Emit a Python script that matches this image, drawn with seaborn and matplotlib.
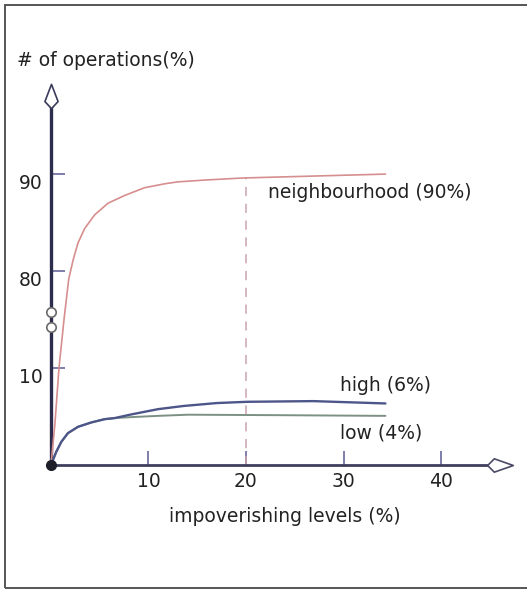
import numpy as np
import pandas as pd
import matplotlib
matplotlib.use('Agg')
import matplotlib.pyplot as plt
from matplotlib.path import Path
from matplotlib.patches import Rectangle
import seaborn as sns

# curves
nb_x = [0, 0.41, 0.82, 1.33, 1.82, 2.26, 2.77, 3.46, 4.48, 5.85, 7.56, 9.61, 11.66, 13.0, 16.0, 19.7, 27.0, 34.3]
nb_y = [0, 4.3, 10, 44.6, 74.2, 81.1, 82.9, 84.4, 85.8, 87.0, 87.8, 88.6, 89.0, 89.2, 89.4, 89.6, 89.8, 90.0]

high_x = [0, 0.54, 1.06, 1.74, 2.77, 4.13, 5.51, 6.53, 8.24, 10.97, 13.6, 17.0, 20.1, 26.9, 34.3]
high_y = [0, 1.37, 2.40, 3.30, 3.95, 4.40, 4.74, 4.85, 5.23, 5.77, 6.10, 6.40, 6.53, 6.60, 6.36]

low_x = [0, 0.54, 1.06, 1.74, 2.77, 4.13, 5.51, 6.53, 8.24, 10.97, 14.05, 23.5, 34.3]
low_y = [0, 1.37, 2.40, 3.30, 3.95, 4.40, 4.74, 4.85, 4.95, 5.08, 5.20, 5.15, 5.08]

x_ticks = [10, 20, 30, 40]
y_ticks = [10, 80, 90]
break_marks = [39.6, 50.4]
ref_x = 20

labels = {'neighbourhood (90%)': (22.3, 88.1),
          'high (6%)': (29.6, 8.25),
          'low (4%)': (29.6, 3.3)}

sns.set_style('white')
plt.rcParams['font.family'] = ['DejaVu Sans']
txt = '#222222'
fs = 13.5


# broken y axis: 0-10, 10-80 squeezed, 80-90 each get the same height
def fwd(v):
    v = np.asarray(v, dtype=float)
    return np.where(v <= 10, v / 10, np.where(v <= 80, 1 + (v - 10) / 70, 2 + (v - 80) / 10))


def inv(d):
    d = np.asarray(d, dtype=float)
    return np.where(d <= 1, d * 10, np.where(d <= 2, 10 + (d - 1) * 70, 80 + (d - 2) * 10))


fig = plt.figure(figsize=(5.27, 5.90), dpi=100)
W, H = 527, 590
ax = fig.add_axes([30 / W, 1 - 470 / H, 490 / W, 390 / H])
ax.set_yscale('function', functions=(fwd, inv))
ax.set_xlim(-2.15, 48.1)
ax.set_ylim(-0.5, 99.7)

df_low = pd.DataFrame({'x': low_x, 'y': low_y})
df_high = pd.DataFrame({'x': high_x, 'y': high_y})
df_nb = pd.DataFrame({'x': nb_x, 'y': nb_y})

ax.plot([ref_x, ref_x], [0, 89.7], color='#c9a3ad', lw=1.1, dashes=(6, 5), zorder=1)
sns.lineplot(data=df_low, x='x', y='y', ax=ax, color='#7c9084', lw=1.4, estimator=None, sort=False, zorder=3)
sns.lineplot(data=df_high, x='x', y='y', ax=ax, color='#4d5688', lw=1.7, estimator=None, sort=False, zorder=4)
sns.lineplot(data=df_nb, x='x', y='y', ax=ax, color='#d68e8e', lw=1.2, estimator=None, sort=False, zorder=3)

for s in ['top', 'right']:
    ax.spines[s].set_visible(False)
ax.spines['left'].set_position(('data', 0))
ax.spines['bottom'].set_position(('data', 0))
ax.spines['left'].set_bounds(0, 96.9)
ax.spines['bottom'].set_bounds(0, 44.7)
ax.spines['left'].set_color('#2c2c4c')
ax.spines['left'].set_linewidth(2.4)
ax.spines['bottom'].set_color('#3e3e5c')
ax.spines['bottom'].set_linewidth(2.0)

ax.set_xticks(x_ticks)
ax.set_yticks(y_ticks)
ax.set_xticklabels([str(t) for t in x_ticks])
ax.set_yticklabels([str(t) for t in y_ticks])
ax.tick_params(axis='both', which='major', direction='in', length=10, width=1.4, color='#7d7dab',
               labelsize=fs, labelcolor=txt, left=True, bottom=True)
ax.tick_params(axis='x', pad=5)
ax.tick_params(axis='y', pad=6)
for t in ax.get_yticklabels():
    t.set_verticalalignment('top')
ax.set_xlabel('')
ax.set_ylabel('')

# arrow heads
kite_up = Path([(0, 12), (6.5, -5), (0, -12), (-6.5, -5), (0, 12)],
               [Path.MOVETO, Path.LINETO, Path.LINETO, Path.LINETO, Path.CLOSEPOLY])
kite_right = Path([(12.5, 0), (-6, 6.5), (-12.5, 0), (-6, -6.5), (12.5, 0)],
                  [Path.MOVETO, Path.LINETO, Path.LINETO, Path.LINETO, Path.CLOSEPOLY])
ax.plot([0], [98.1], marker=kite_up, ms=17.5, mfc='white', mec='#3a3a5a', mew=1.2, clip_on=False, zorder=6)
ax.plot([46.0], [0], marker=kite_right, ms=18.5, mfc='white', mec='#4a4a66', mew=1.2, clip_on=False, zorder=6)

# axis break and origin dot
ax.plot([0, 0], break_marks, ls='none', marker='o', ms=6.8, mfc='white', mec='#6a6a6a', mew=1.2,
        clip_on=False, zorder=7)
ax.plot([0], [0], marker='o', ms=7, color='#1e1e2a', clip_on=False, zorder=8)

for s, (lx, ly) in labels.items():
    ax.text(lx, ly, s, fontsize=fs, color=txt, ha='left', va='center')

fig.text(17 / W, 1 - 60 / H, '# of operations(%)', fontsize=fs, color=txt, ha='left', va='center')
fig.text(285 / W, 1 - 516 / H, 'impoverishing levels (%)', fontsize=fs, color=txt, ha='center', va='center')

fig.patches.append(Rectangle((5 / W, 1 - 588 / H), 530 / W, 583 / H, transform=fig.transFigure,
                             fill=False, ec='#555555', lw=1.4))

fig.savefig('out.png', dpi=100)
